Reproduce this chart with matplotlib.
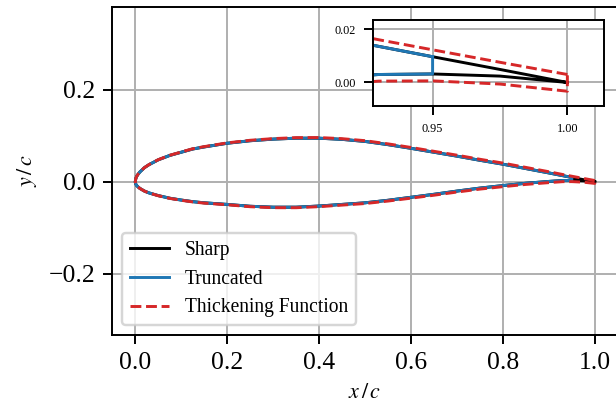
import numpy as np
import matplotlib
matplotlib.use('Agg')
import matplotlib.pyplot as plt

plt.rcParams['font.family'] = 'serif'
plt.rcParams['font.serif'] = ['Liberation Serif', 'DejaVu Serif']
plt.rcParams['mathtext.fontset'] = 'stix'

# Chordwise stations (shared by both surfaces)
x = [0, 0.001, 0.0025, 0.005, 0.01, 0.02, 0.03, 0.05, 0.075, 0.1, 0.125, 0.15, 0.2,
     0.25, 0.3, 0.35, 0.4, 0.45, 0.5, 0.55, 0.6, 0.65, 0.7, 0.75, 0.8, 0.85, 0.9,
     0.93, 0.95, 0.975, 1.0]

# Sharp trailing edge airfoil
y_upper = [0, 0.0068, 0.0108, 0.0152, 0.0215, 0.031, 0.0375, 0.048, 0.0575, 0.0645,
           0.0715, 0.076, 0.084, 0.0895, 0.093, 0.095, 0.095, 0.0925, 0.088, 0.081,
           0.073, 0.0645, 0.056, 0.047, 0.0385, 0.029, 0.0195, 0.0136, 0.0097,
           0.0049, 0.0]
y_lower = [0, -0.0045, -0.0072, -0.0101, -0.0142, -0.020, -0.024, -0.0298, -0.0355,
           -0.0395, -0.043, -0.0455, -0.049, -0.053, -0.055, -0.055, -0.0525, -0.049,
           -0.0455, -0.040, -0.0335, -0.027, -0.020, -0.0135, -0.008, -0.003, 0.001,
           0.003, 0.0032, 0.0024, 0.0]

# Thickened trailing edge airfoil
y_upper_thick = [0, 0.0068, 0.0108, 0.0152, 0.0216, 0.0311, 0.0377, 0.0483, 0.0579,
                 0.065, 0.0721, 0.0767, 0.0848, 0.0905, 0.0941, 0.0962, 0.0964,
                 0.094, 0.0896, 0.0827, 0.0749, 0.0665, 0.0581, 0.0492, 0.0409,
                 0.0315, 0.0221, 0.0161, 0.0123, 0.0076, 0.003]
y_lower_thick = [0, -0.0045, -0.0072, -0.0101, -0.0143, -0.0201, -0.0242, -0.0301,
                 -0.0359, -0.04, -0.0436, -0.0462, -0.0498, -0.054, -0.0561, -0.0562,
                 -0.0539, -0.0505, -0.0471, -0.0417, -0.0354, -0.029, -0.0221,
                 -0.0157, -0.0104, -0.0055, -0.0016, 0.0005, 0.0006, -0.0006, -0.0033]

x_cut = 0.95  # truncation location

x = np.array(x)
yu, yl = np.array(y_upper), np.array(y_lower)
yut, ylt = np.array(y_upper_thick), np.array(y_lower_thick)

# closed loops: TE -> upper -> LE -> lower -> TE
xs = np.concatenate([x[::-1], x[1:]])
ys = np.concatenate([yu[::-1], yl[1:]])

keep = x <= x_cut
xk = x[keep]
xt = np.concatenate([xk[::-1], xk[1:], [xk[-1]]])
yt = np.concatenate([yu[keep][::-1], yl[keep][1:], [yu[keep][-1]]])

xth = np.concatenate([x[::-1], x[1:], [x[-1]]])
yth = np.concatenate([yut[::-1], ylt[1:], [yut[-1]]])


def draw(ax, lw):
    ax.plot(xs, ys, color='k', lw=lw, label='Sharp')
    ax.plot(xt, yt, color='tab:blue', lw=lw, label='Truncated')
    ax.plot(xth, yth, color='tab:red', lw=lw, ls='--', label='Thickening Function')


fig = plt.figure(figsize=(616 / 176, 416 / 176), dpi=176)
ax = fig.add_axes([0.1823, 0.1947, 0.8205, 0.7892])
draw(ax, 1.2)
ax.set_xlim(-0.05, 1.05)
ax.set_ylim(-0.333, 0.381)
ax.set_xticks([0.0, 0.2, 0.4, 0.6, 0.8, 1.0])
ax.set_yticks([-0.2, 0.0, 0.2])
ax.tick_params(labelsize=10.5)
ax.grid(True)
ax.set_xlabel(r'$x\,/\,c$', fontsize=9)
ax.set_ylabel(r'$y\,/\,c$', fontsize=9)
ax.legend(loc='lower left', fontsize=8)

# zoom on the trailing edge
axi = fig.add_axes([0.606, 0.745, 0.375, 0.2067])
draw(axi, 1.2)
axi.set_xlim(0.928, 1.0137)
axi.set_ylim(-0.0089, 0.0235)
axi.set_xticks([0.95, 1.00])
axi.set_yticks([0.00, 0.02])
axi.tick_params(labelsize=5)
axi.grid(True)

fig.savefig('out.png', dpi=176)
